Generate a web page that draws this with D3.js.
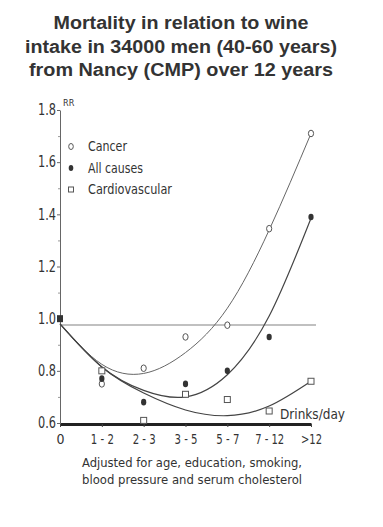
<!DOCTYPE html>
<html>
<head>
<meta charset="utf-8">
<script src="https://cdn.jsdelivr.net/npm/d3@7"></script>
<style>
  body { margin: 0; background: #fff; }
  svg { display: block; }
  .narrow { font-family: "Liberation Sans Narrow", "DejaVu Sans Condensed", "Liberation Sans", sans-serif; fill: #333; }
</style>
</head>
<body>
<svg></svg>
<script>
const CATEGORIES = ['0', '1-2', '2-3', '3-5', '5-7', '7-12', '>12'];

// observed relative risks (index 0 is the reference group)
const CANCER = [1.0, 0.75, 0.81, 0.93, 0.975, 1.345, 1.71];
const ALL_CAUSES = [1.0, 0.77, 0.68, 0.75, 0.80, 0.93, 1.39];
const CARDIO = [1.0, 0.80, 0.61, 0.71, 0.69, 0.646, 0.76];

// fitted curves, one value per category
const CANCER_FIT = [0.98, 0.825, 0.79, 0.87, 1.04, 1.34, 1.71];
const ALL_FIT = [0.98, 0.815, 0.725, 0.70, 0.785, 1.01, 1.385];
const CARDIO_FIT = [0.98, 0.815, 0.715, 0.65, 0.628, 0.665, 0.76];

const REF_VALUE = 1.0;
const REF_LINE = 0.976;

const Y_TICKS = [0.6, 0.8, 1.0, 1.2, 1.4, 1.6, 1.8];
const Y_TICK_LABELS = ['0.6', '0.8', '1.0', '1.2', '1.4', '1.6', '1.8'];
const Y_MINOR = [0.7, 0.9, 1.1, 1.3, 1.5, 1.7];

const TITLE = ['Mortality in relation to wine', 'intake in 34000 men (40-60 years)', 'from Nancy (CMP) over 12 years'];
const FOOTER = ['Adjusted for age, education, smoking,', 'blood pressure and serum cholesterol'];
const LEGEND = ['Cancer', 'All causes', 'Cardiovascular'];

const WIDTH = 383;
const HEIGHT = 527;

const svg = d3.select('svg').attr('width', WIDTH).attr('height', HEIGHT);

const x = d3.scalePoint().domain(CATEGORIES).range([60, 311]);
const y = d3.scaleLinear().domain([0.6, 1.8]).range([423, 110]);

// title
const titleWidths = [255, 312, 304];
svg.append('g')
    .selectAll('text')
    .data(TITLE)
    .enter()
    .append('text')
    .attr('x', 181)
    .attr('y', (d, i) => 29 + i * 23.5)
    .attr('text-anchor', 'middle')
    .attr('font-family', '"Liberation Sans", Arial, sans-serif')
    .attr('font-weight', 'bold')
    .attr('font-size', 18)
    .attr('textLength', (d, i) => titleWidths[i])
    .attr('lengthAdjust', 'spacingAndGlyphs')
    .attr('fill', '#333')
    .text((d) => d);

// reference line
svg.append('line')
    .attr('x1', x('0')).attr('x2', 316)
    .attr('y1', y(REF_LINE)).attr('y2', y(REF_LINE))
    .attr('stroke', '#c0c0c0')
    .attr('stroke-width', 2);

// y axis
const yAxis = svg.append('g')
    .attr('transform', `translate(${x('0')},0)`)
    .call(d3.axisLeft(y).tickValues(Y_TICKS).tickSize(3).tickSizeOuter(0)
        .tickFormat((d, i) => Y_TICK_LABELS[i]));
yAxis.select('.domain').attr('stroke', '#666');
yAxis.selectAll('.tick line').attr('stroke', '#666');
yAxis.selectAll('.tick text')
    .attr('class', 'narrow')
    .attr('font-size', 15)
    .attr('x', -4)
    .attr('textLength', 18)
    .attr('lengthAdjust', 'spacingAndGlyphs');

svg.append('g')
    .attr('transform', `translate(${x('0')},0)`)
    .call(d3.axisLeft(y).tickValues(Y_MINOR).tickSize(2).tickFormat(''))
    .call((g) => g.select('.domain').remove())
    .selectAll('.tick line').attr('stroke', '#999');

svg.append('text')
    .attr('class', 'narrow')
    .attr('x', 63).attr('y', 106)
    .attr('font-size', 9)
    .text('RR');

// x axis
const xAxis = svg.append('g')
    .attr('transform', `translate(0,${y(0.6) + 1})`)
    .call(d3.axisBottom(x).tickSize(3).tickSizeOuter(0).tickPadding(7));
xAxis.select('.domain').attr('stroke', '#222').attr('stroke-width', 3);
xAxis.selectAll('.tick line').attr('stroke', '#444');
xAxis.selectAll('.tick text')
    .attr('class', 'narrow')
    .attr('font-size', 14)
    .text((d) => d === '0' ? d : d.replace('-', ' - '))
    .attr('textLength', (d) => d === '0' ? null : (d === '>12' ? 21 : d.length > 3 ? 29 : 23))
    .attr('lengthAdjust', 'spacingAndGlyphs');

svg.append('text')
    .attr('class', 'narrow')
    .attr('x', 280).attr('y', 419)
    .attr('font-size', 13.5)
    .attr('textLength', 65)
    .attr('lengthAdjust', 'spacingAndGlyphs')
    .text('Drinks/day');

// fitted curves
const line = d3.line()
    .x((d, i) => x(CATEGORIES[i]))
    .y((d) => y(d))
    .curve(d3.curveNatural);

[CANCER_FIT, ALL_FIT, CARDIO_FIT].forEach((fit, k) => {
    svg.append('path')
        .datum(fit)
        .attr('d', line)
        .attr('fill', 'none')
        .attr('stroke', k === 0 ? '#666' : '#444')
        .attr('stroke-width', k === 0 ? 1 : 1.2);
});

// markers
const pts = (vals) => vals.map((v, i) => ({ cat: CATEGORIES[i], v: v })).slice(1);

svg.append('g').selectAll('ellipse')
    .data(pts(CANCER))
    .enter()
    .append('ellipse')
    .attr('cx', (d) => x(d.cat))
    .attr('cy', (d) => y(d.v))
    .attr('rx', 2.6).attr('ry', 3.3)
    .attr('fill', '#fff')
    .attr('stroke', '#555');

svg.append('g').selectAll('ellipse')
    .data(pts(ALL_CAUSES))
    .enter()
    .append('ellipse')
    .attr('cx', (d) => x(d.cat))
    .attr('cy', (d) => y(d.v))
    .attr('rx', 2.6).attr('ry', 3.3)
    .attr('fill', '#333');

svg.append('g').selectAll('rect')
    .data(pts(CARDIO))
    .enter()
    .append('rect')
    .attr('x', (d) => x(d.cat) - 3)
    .attr('y', (d) => y(d.v) - 3)
    .attr('width', 6).attr('height', 6)
    .attr('fill', '#fff')
    .attr('stroke', '#555');

// reference group marker
svg.append('rect')
    .attr('x', x('0') - 3).attr('y', y(REF_VALUE) - 3.5)
    .attr('width', 6).attr('height', 7)
    .attr('fill', '#333');

// legend
const legend = svg.append('g').attr('transform', 'translate(71,0)');
const legendY = [146.5, 168, 189.5];
const legendWidths = [39, 55, 84];
legend.selectAll('text')
    .data(LEGEND)
    .enter()
    .append('text')
    .attr('class', 'narrow')
    .attr('x', 17)
    .attr('y', (d, i) => legendY[i] + 4.5)
    .attr('font-size', 13.5)
    .attr('textLength', (d, i) => legendWidths[i])
    .attr('lengthAdjust', 'spacingAndGlyphs')
    .text((d) => d);
legend.append('ellipse').attr('cx', 0).attr('cy', legendY[0]).attr('rx', 2.3).attr('ry', 3)
    .attr('fill', '#fff').attr('stroke', '#555');
legend.append('ellipse').attr('cx', 0).attr('cy', legendY[1]).attr('rx', 2.3).attr('ry', 3)
    .attr('fill', '#333');
legend.append('rect').attr('x', -2.5).attr('y', legendY[2] - 2.5).attr('width', 5).attr('height', 5)
    .attr('fill', '#fff').attr('stroke', '#555');

// footer
svg.append('g')
    .selectAll('text')
    .data(FOOTER)
    .enter()
    .append('text')
    .attr('class', 'narrow')
    .attr('x', 82)
    .attr('y', (d, i) => 467 + i * 17)
    .attr('font-size', 12.5)
    .attr('textLength', 220)
    .attr('lengthAdjust', 'spacingAndGlyphs')
    .text((d) => d);
</script>
</body>
</html>
